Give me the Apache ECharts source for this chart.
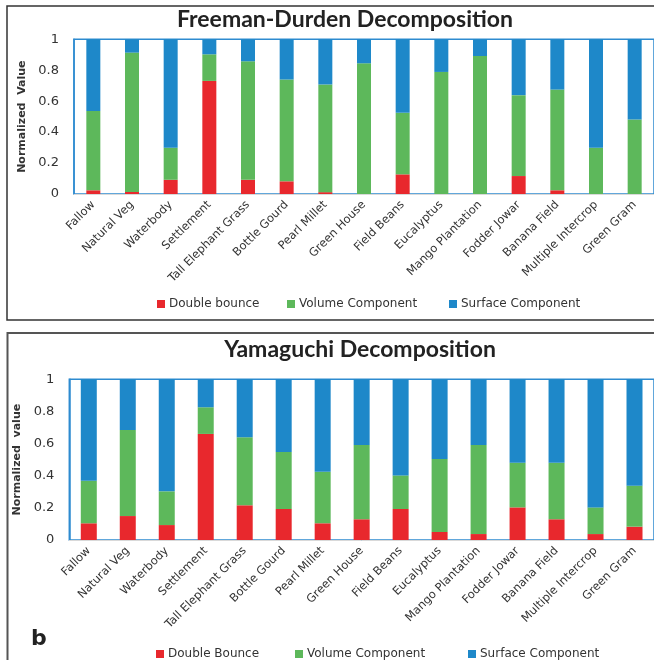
<!DOCTYPE html>
<html>
<head>
<meta charset="utf-8">
<script src="https://cdn.jsdelivr.net/npm/echarts@6/dist/echarts.min.js"></script>
<style>
  html, body { margin: 0; padding: 0; background: #ffffff; }
  #chart { width: 654px; height: 660px; }
</style>
</head>
<body>
<div id="chart"></div>
<script>
// Land-cover classes shared by both decompositions
const categories = [
  'Fallow', 'Natural Veg', 'Waterbody', 'Settlement', 'Tall Elephant Grass',
  'Bottle Gourd', 'Pearl Millet', 'Green House', 'Field Beans', 'Eucalyptus',
  'Mango Plantation', 'Fodder Jowar', 'Banana Field', 'Multiple Intercrop', 'Green Gram'
];

// Freeman-Durden normalized power components
const fdDouble  = [0.024, 0.013, 0.092, 0.731, 0.092, 0.082, 0.012, 0.000, 0.127, 0.000, 0.000, 0.116, 0.024, 0.000, 0.000];
const fdVolume  = [0.513, 0.901, 0.207, 0.172, 0.766, 0.658, 0.696, 0.845, 0.398, 0.789, 0.892, 0.523, 0.651, 0.299, 0.482];
const fdSurface = [0.463, 0.086, 0.701, 0.097, 0.142, 0.260, 0.292, 0.155, 0.475, 0.211, 0.108, 0.361, 0.325, 0.701, 0.518];

// Yamaguchi normalized power components
const yaDouble  = [0.104, 0.149, 0.093, 0.660, 0.216, 0.193, 0.104, 0.129, 0.193, 0.050, 0.037, 0.203, 0.129, 0.037, 0.083];
const yaVolume  = [0.265, 0.535, 0.210, 0.166, 0.423, 0.355, 0.321, 0.462, 0.209, 0.454, 0.554, 0.278, 0.352, 0.166, 0.255];
const yaSurface = [0.631, 0.316, 0.697, 0.174, 0.361, 0.452, 0.575, 0.409, 0.598, 0.496, 0.409, 0.519, 0.519, 0.797, 0.662];

const RED = '#E8282D', GREEN = '#5DB85B', BLUE = '#1E88C9';
const AXIS_BLUE = '#2E8BD0';
const TEXT = '#333333';

const chart = echarts.init(document.getElementById('chart'), null, { renderer: 'canvas' });

function xAxisFor(gridIndex) {
  return {
    type: 'category', gridIndex, data: categories,
    axisLine: { show: true, lineStyle: { color: '#d9d9d9', width: 1 } },
    axisTick: { show: false },
    axisLabel: { rotate: 45, interval: 0, margin: 9, fontFamily: 'DejaVu Sans', fontSize: 11.5, color: TEXT }
  };
}

function yAxisFor(gridIndex, name) {
  return {
    type: 'value', gridIndex, min: 0, max: 1, interval: 0.2,
    name, nameLocation: 'middle', nameGap: 42, nameRotate: 90,
    nameTextStyle: { fontFamily: 'DejaVu Sans', fontSize: 11, fontWeight: 'bold', color: TEXT },
    axisLine: { show: true, lineStyle: { color: AXIS_BLUE, width: 1.5 } },
    axisTick: { show: false },
    splitLine: { show: false },
    axisLabel: { margin: 15, fontFamily: 'DejaVu Sans', fontSize: 13, color: TEXT }
  };
}

function bar(name, data, color, axisIndex, width) {
  return {
    name, type: 'bar', stack: 'total' + axisIndex, data,
    xAxisIndex: axisIndex, yAxisIndex: axisIndex,
    barWidth: width, itemStyle: { color }, animation: false
  };
}

function legendItem(name, left, top) {
  return {
    data: [name], left, top, icon: 'rect', itemWidth: 8, itemHeight: 8, itemGap: 4,
    textStyle: { fontFamily: 'DejaVu Sans', fontSize: 12, color: TEXT, padding: [0, 0, 0, -1] },
    selectedMode: false
  };
}

const titleFont = { fontFamily: 'Lato', fontSize: 23, fontWeight: 'bold', color: '#222222' };

chart.setOption({
  animation: false,
  title: [
    { text: 'Freeman-Durden Decomposition', left: 340, top: 3, textAlign: 'center', textStyle: titleFont },
    { text: 'Yamaguchi Decomposition', left: 355, top: 333, textAlign: 'center', textStyle: titleFont }
  ],
  grid: [
    { left: 74, right: -2.4, top: 39.3, height: 154.7, show: true, borderColor: AXIS_BLUE, borderWidth: 1.5, backgroundColor: 'transparent' },
    { left: 69.3, right: -5.4, top: 379.3, height: 160.7, show: true, borderColor: AXIS_BLUE, borderWidth: 1.5, backgroundColor: 'transparent' }
  ],
  xAxis: [xAxisFor(0), xAxisFor(1)],
  yAxis: [yAxisFor(0, 'Normalized  Value'), yAxisFor(1, 'Normalized  value')],
  legend: [
    legendItem('Double bounce', 152, 293),
    legendItem('Volume Component', 282, 293),
    legendItem('Surface Component', 444, 293),
    legendItem('Double Bounce', 151, 643),
    legendItem('Volume Component', 290, 643),
    legendItem('Surface Component', 463, 643)
  ],
  series: [
    bar('Double bounce', fdDouble, RED, 0, 14),
    bar('Volume Component', fdVolume, GREEN, 0, 14),
    bar('Surface Component', fdSurface, BLUE, 0, 14),
    bar('Double Bounce', yaDouble, RED, 1, 16),
    bar('Volume Component', yaVolume, GREEN, 1, 16),
    bar('Surface Component', yaSurface, BLUE, 1, 16)
  ],
  graphic: [
    { type: 'rect', shape: { x: 7, y: 6, width: 660, height: 314 }, style: { fill: 'none', stroke: '#333333', lineWidth: 1.5 }, z: -1 },
    { type: 'rect', shape: { x: 7.5, y: 333, width: 660, height: 340 }, style: { fill: 'none', stroke: '#555555', lineWidth: 2 }, z: -1 },
    { type: 'text', left: 31, top: 628, style: { text: 'b', font: 'bold 22px "DejaVu Sans"', fill: '#222222' } }
  ]
});
</script>
</body>
</html>
